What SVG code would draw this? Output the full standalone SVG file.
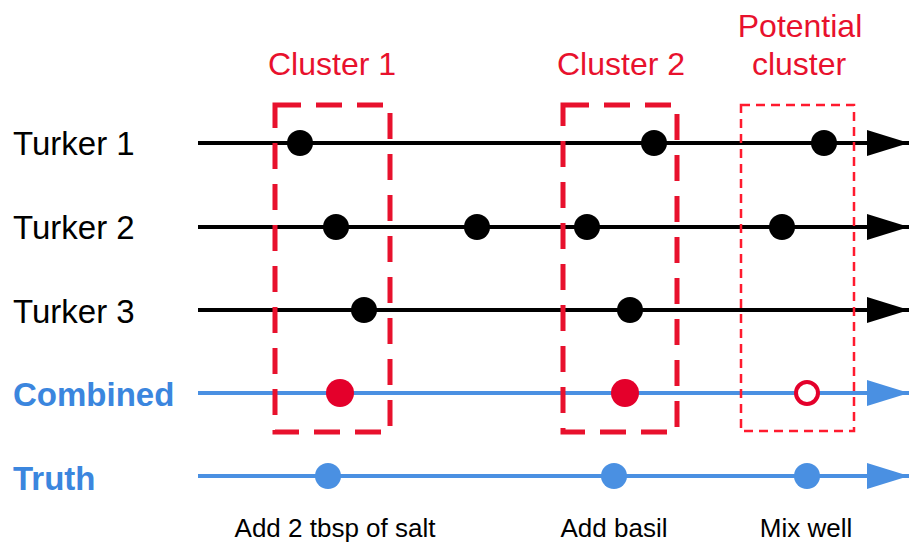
<svg xmlns="http://www.w3.org/2000/svg" width="912" height="546" viewBox="0 0 912 546">
  <style>
    .lbl { font-family: "Liberation Sans", Arial, sans-serif; font-size: 33px; }
    .blk { fill: #000; }
    .blu { fill: #3b86de; font-weight: bold; }
    .red { fill: #e8112d; font-family: "Liberation Sans", Arial, sans-serif; font-size: 32px; text-anchor: middle; }
    .step { font-family: "Liberation Sans", Arial, sans-serif; font-size: 26px; fill: #000; text-anchor: middle; }
    .bl { stroke: #000; stroke-width: 4; fill: none; }
    .bu { stroke: #4a90e2; stroke-width: 4; fill: none; }
    .dot { fill: #000; }
    .rdot { fill: #e4002b; }
    .udot { fill: #4a90e2; }
    .box { fill: none; stroke: #e8112d; stroke-width: 5; stroke-dasharray: 26 15; }
    .pbox { fill: none; stroke: #ff1a2e; stroke-width: 2.5; stroke-dasharray: 9 6; }
  </style>
  <defs>
    <marker id="ab" markerUnits="userSpaceOnUse" markerWidth="44" markerHeight="28" refX="42" refY="13" orient="auto">
      <path d="M0,0 L42,13 L0,26 Z" fill="#000"/>
    </marker>
    <marker id="au" markerUnits="userSpaceOnUse" markerWidth="44" markerHeight="28" refX="42" refY="13" orient="auto">
      <path d="M0,0 L42,13 L0,26 Z" fill="#4a90e2"/>
    </marker>
  </defs>
  <rect width="912" height="546" fill="#fff"/>

  <g id="connectors">
    <line class="bl" x1="198" y1="143" x2="909" y2="143" marker-end="url(#ab)"/>
    <line class="bl" x1="198" y1="227" x2="909" y2="227" marker-end="url(#ab)"/>
    <line class="bl" x1="198" y1="310" x2="909" y2="310" marker-end="url(#ab)"/>
    <line class="bu" x1="198" y1="393" x2="909" y2="393" marker-end="url(#au)"/>
    <line class="bu" x1="198" y1="476" x2="909" y2="476" marker-end="url(#au)"/>
  </g>

  <g id="labels">
    <text class="lbl blk" x="13" y="155">Turker 1</text>
    <text class="lbl blk" x="13" y="239">Turker 2</text>
    <text class="lbl blk" x="13" y="323">Turker 3</text>
    <text class="lbl blu" x="13" y="406">Combined</text>
    <text class="lbl blu" x="13" y="490">Truth</text>
  </g>

  <g id="turker1">
    <circle class="dot" cx="300" cy="143" r="13"/>
    <circle class="dot" cx="654" cy="143" r="13"/>
    <circle class="dot" cx="824" cy="143" r="13"/>
  </g>
  <g id="turker2">
    <circle class="dot" cx="336" cy="227" r="13"/>
    <circle class="dot" cx="477" cy="227" r="13"/>
    <circle class="dot" cx="587" cy="227" r="13"/>
    <circle class="dot" cx="782" cy="227" r="13"/>
  </g>
  <g id="turker3">
    <circle class="dot" cx="364" cy="310" r="13"/>
    <circle class="dot" cx="630" cy="310" r="13"/>
  </g>
  <g id="combined">
    <circle class="rdot" cx="340" cy="393" r="14"/>
    <circle class="rdot" cx="625" cy="393" r="14"/>
    <circle cx="807" cy="393" r="11" fill="#fff" stroke="#e4002b" stroke-width="4"/>
  </g>
  <g id="truth">
    <circle class="udot" cx="328" cy="476" r="13"/>
    <circle class="udot" cx="614" cy="476" r="13"/>
    <circle class="udot" cx="807" cy="476" r="13"/>
  </g>

  <g id="cluster1">
    <rect class="box" x="275" y="105" width="115" height="327"/>
    <text class="red" x="332" y="75">Cluster 1</text>
  </g>
  <g id="cluster2">
    <rect class="box" x="563" y="105" width="114" height="327"/>
    <text class="red" x="621" y="75">Cluster 2</text>
  </g>
  <g id="potential">
    <rect class="pbox" x="741" y="105" width="113" height="326"/>
    <text class="red" x="800" y="37">Potential</text>
    <text class="red" x="799" y="75">cluster</text>
  </g>

  <g id="steps">
    <text class="step" x="335" y="537">Add 2 tbsp of salt</text>
    <text class="step" x="614" y="537">Add basil</text>
    <text class="step" x="806" y="537">Mix well</text>
  </g>
</svg>
